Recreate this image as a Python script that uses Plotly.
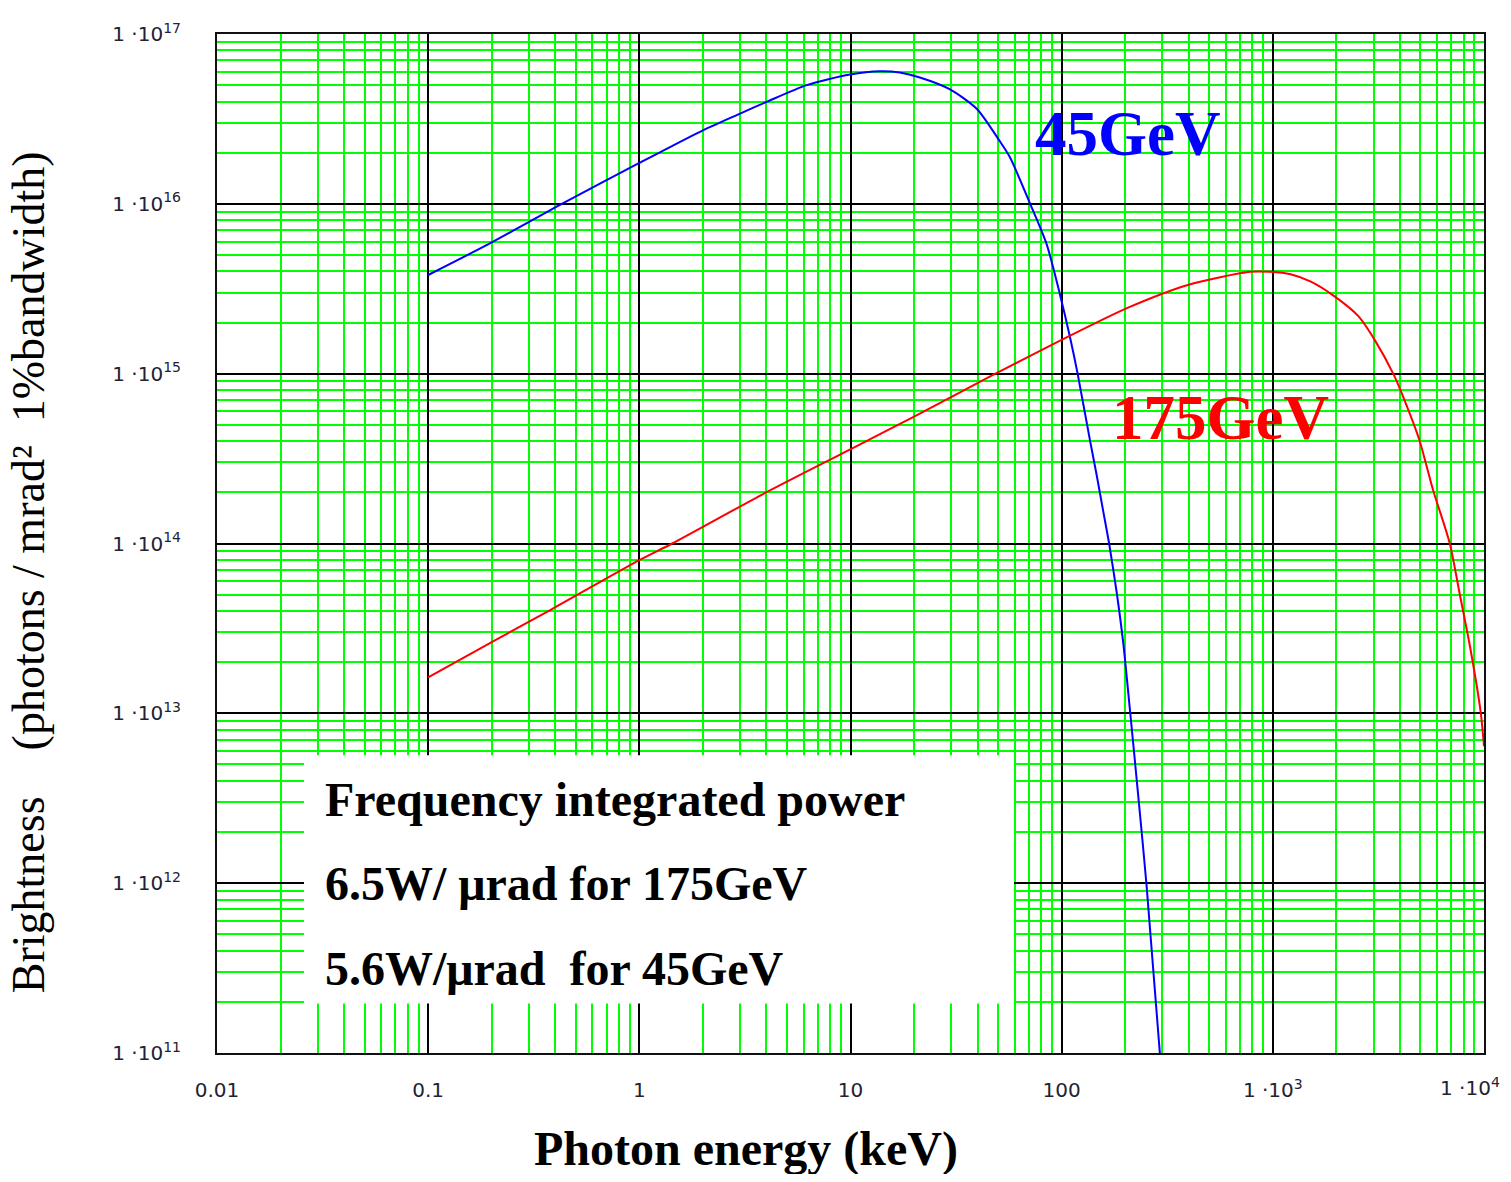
import plotly.graph_objects as go

# ---- data (photon energy in keV, brightness) ----
e45 = [0.1, 0.196, 0.436, 1.0, 2.01, 3.0, 4.0, 6.2, 9.94, 13.8, 17.1, 21.3, 29.6,
       39.6, 50.9, 56.9, 70.7, 84.8, 98.4, 109.4, 119, 135.9, 146.3, 157.3, 168,
       182, 195.7, 210.5, 230.3, 252.2, 291.7]
b45 = [3.81e15, 5.85e15, 1.01e16, 1.74e16, 2.72e16, 3.40e16, 3.98e16, 5.0e16, 5.77e16,
       6.03e16, 5.93e16, 5.55e16, 4.72e16, 3.63e16, 2.34e16, 1.88e16, 1.01e16, 5.81e15,
       2.89e15, 1.65e15, 1.0e15, 4.1e14, 2.55e14, 1.55e14, 9.9e13,
       5.2e13, 2.6e13, 1.05e13, 3.3e12, 9.8e11, 1.0e11]

e175 = [0.1, 0.199, 0.384, 1.0, 1.43, 3.96, 9.88, 19.9, 47.3, 98.8, 205, 396, 778, 971,
        1213, 1514, 1960, 2541, 3055, 3741, 4266, 4943, 5728, 6891, 7686, 8600, 9660, 10000]
b175 = [1.63e13, 2.62e13, 4.1e13, 7.98e13, 1.0e14, 1.99e14, 3.56e14, 5.57e14, 9.83e14,
        1.57e15, 2.44e15, 3.33e15, 3.98e15, 3.98e15, 3.85e15, 3.48e15, 2.85e15, 2.18e15,
        1.56e15, 9.83e14, 6.67e14, 4.07e14, 2.08e14, 9.98e13, 4.99e13, 2.44e13, 1.0e13, 6.4e12]

x_alias = {"1e+3": "1 ·10<sup>3</sup>", "1e+4": " "}
x_last_label = "1 ·10<sup>4</sup>"
y_alias = {f"1e+{p}": f"1 ·10<sup>{p}</sup>" for p in range(11, 18)}

OFF = 8  # page body margin
W, H = 1511 - 2 * OFF, 1182 - 2 * OFF
PL, PR, PT, PB = 217, 1484, 23, 1053  # plot area in page pixels
L, R, T, B = PL - OFF, W - (PR - OFF), PT - OFF, H - (PB - OFF)


def px(xp):
    return (xp - PL) / (PR - PL)


def py(yp):
    return (PB - yp) / (PB - PT)


fig = go.Figure()
fig.add_trace(go.Scatter(x=e45, y=b45, mode="lines",
                         line=dict(color="#0000ff", width=2, shape="spline", smoothing=0.7),
                         name="45GeV"))
fig.add_trace(go.Scatter(x=e175, y=b175, mode="lines",
                         line=dict(color="#ff0000", width=2, shape="spline", smoothing=0.7),
                         name="175GeV"))

tickfont = dict(family="DejaVu Sans", size=20, color="#222233")
common = dict(type="log", tickmode="linear", tick0=0, dtick=1, exponentformat="e",
              showgrid=True, gridcolor="#000000", gridwidth=2,
              minor=dict(dtick="D1", showgrid=True, gridcolor="#00ff00", gridwidth=2, ticks=""),
              showline=True, linecolor="#111111", linewidth=2, mirror=True,
              ticks="", zeroline=False, tickfont=tickfont)

fig.update_xaxes(range=[-2, 4], labelalias=x_alias, ticklabelstandoff=18, **common)
fig.update_yaxes(range=[11, 17], labelalias=y_alias, ticklabelstandoff=30, **common)

fig.add_shape(type="rect", xref="paper", yref="paper",
              x0=px(304), x1=px(1014), y0=py(1003), y1=py(752),
              fillcolor="white", line=dict(width=0), layer="above")

serif = "Liberation Serif"
ann = []
ann.append(dict(text=x_last_label, x=px(1502), y=py(1087), xanchor="right",
                font=tickfont))
ann.append(dict(text="<b>45GeV</b>", x=px(1127), y=py(124),
                font=dict(family=serif, size=63, color="#0000ff")))
ann.append(dict(text="<b>175GeV</b>", x=px(1220), y=py(411),
                font=dict(family=serif, size=63, color="#ff0000")))
for txt, yy in [("Frequency integrated power", 797),
                ("6.5W/ μrad for 175GeV", 882),
                ("5.6W/μrad  for 45GeV", 968)]:
    ann.append(dict(text="<b>" + txt + "</b>", x=px(323), y=py(yy), xanchor="left",
                    font=dict(family=serif, size=48, color="black")))
ann.append(dict(text="<b>Photon energy (keV)</b>", x=px(746), y=py(1150),
                font=dict(family=serif, size=48, color="black")))
ann.append(dict(text="Brightness    (photons / mrad²  1%bandwidth)",
                x=px(28), y=py(567), textangle=-90,
                font=dict(family=serif, size=46, color="black")))
for a in ann:
    a.update(xref="paper", yref="paper", showarrow=False)
    a.setdefault("xanchor", "center")
    a.setdefault("yanchor", "middle")
fig.update_layout(annotations=ann)

fig.update_layout(width=W, height=H, margin=dict(l=L, r=R, t=T, b=B, pad=0),
                  plot_bgcolor="white", paper_bgcolor="white", showlegend=False)

fig.write_html("out.html")
